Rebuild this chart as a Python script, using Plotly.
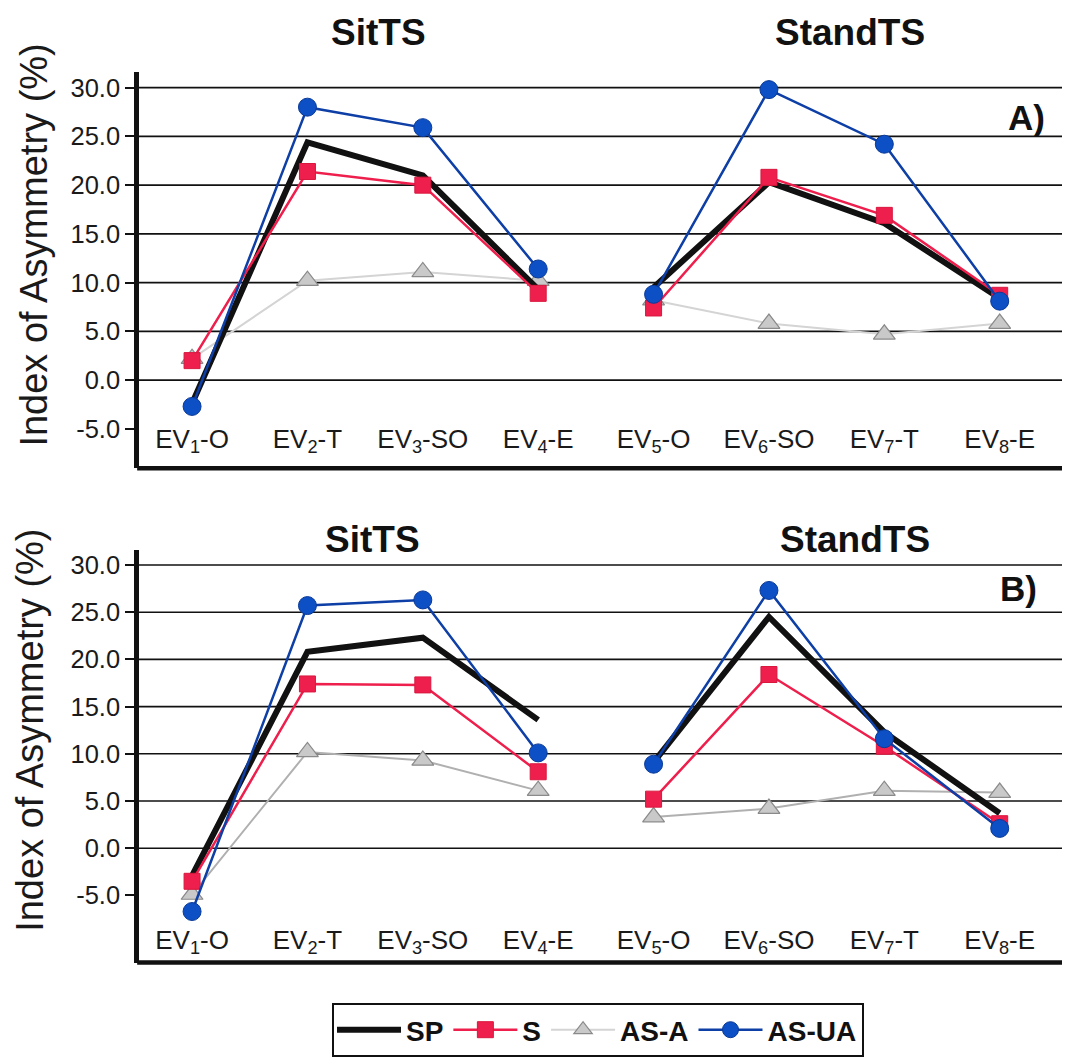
import plotly.graph_objects as go

# ---------------- data ----------------
EVENTS = ["EV<sub>1</sub>-O", "EV<sub>2</sub>-T", "EV<sub>3</sub>-SO", "EV<sub>4</sub>-E",
          "EV<sub>5</sub>-O", "EV<sub>6</sub>-SO", "EV<sub>7</sub>-T", "EV<sub>8</sub>-E"]
TASK_TITLES = ["SitTS", "StandTS"]
PANEL_LABELS = ["A)", "B)"]
SERIES_NAMES = ["SP", "S", "AS-A", "AS-UA"]
Y_TICKS = [-5, 0, 5, 10, 15, 20, 25, 30]
GRID_LEVELS = [0, 5, 10, 15, 20, 25, 30]

# Panel A
A_SP = [-2.4, 24.4, 21.0, 9.3, 9.5, 20.3, 16.1, 8.4]
A_S = [2.0, 21.4, 20.0, 8.9, 7.4, 20.8, 16.9, 8.7]
A_ASA = [2.2, 10.2, 11.1, 10.2, 8.2, 5.8, 4.7, 5.8]
A_ASUA = [-2.7, 28.0, 25.9, 11.4, 8.8, 29.8, 24.2, 8.1]

# Panel B
B_SP = [-2.9, 20.8, 22.3, 13.6, 9.1, 24.5, 12.3, 3.7]
B_S = [-3.5, 17.4, 17.3, 8.1, 5.2, 18.4, 10.8, 2.6]
B_ASA = [-4.9, 10.2, 9.3, 6.1, 3.3, 4.2, 6.1, 5.9]
B_ASUA = [-6.7, 25.7, 26.3, 10.1, 8.9, 27.3, 11.6, 2.1]

PANELS = [
    {"SP": A_SP, "S": A_S, "AS-A": A_ASA, "AS-UA": A_ASUA},
    {"SP": B_SP, "S": B_S, "AS-A": B_ASA, "AS-UA": B_ASUA},
]

# ---------------- styles ----------------
FONT = "Liberation Sans, Arial, Helvetica, sans-serif"
STYLE = {
    "SP": dict(line=dict(color="#111111", width=6), mode="lines", marker=None, rank=1),
    "S": dict(line=dict(color="#ee1f4c", width=2.5), mode="lines+markers",
              marker=dict(symbol="square", size=16, color="#ee1f4c",
                          line=dict(color="#d8183f", width=1)), rank=2),
    "AS-A": dict(line=dict(color="#cfcfcf", width=2), mode="lines+markers",
                 marker=dict(symbol="triangle-up", size=19, color="#c9c9c9",
                             line=dict(color="#8a8a8a", width=1.2)), rank=3),
    "AS-UA": dict(line=dict(color="#0d3fa6", width=2.5), mode="lines+markers",
                  marker=dict(symbol="circle", size=18, color="#0d4fc4",
                              line=dict(color="#0a3a98", width=1)), rank=4),
}
DRAW_ORDER = ["AS-A", "SP", "S", "AS-UA"]
ASA_LINE = ["#d4d4d4", "#b0b0b0"]

W, H = 1067, 1057
ML, MR = 139, 5
PW = W - ML - MR

def px_y(p):
    return 1 - p / H

def px_x(p):
    return (p - ML) / PW

Y_DOMAINS = [[px_y(471), px_y(72)], [px_y(968), px_y(553)]]
Y_RANGES = [[-9.05, 31.65], [-12.1, 31.6]]
X_RANGE = [-0.46, 7.54]
XLAB_POS = [px_y(423), px_y(927)]

fig = go.Figure()

for p, data in enumerate(PANELS):
    xa = "x" if p == 0 else "x2"
    ya = "y" if p == 0 else "y2"
    for name in DRAW_ORDER:
        st = STYLE[name]
        vals = data[name]
        line = dict(st["line"])
        if name == "AS-A":
            line["color"] = ASA_LINE[p]
        for g in range(2):
            idx = list(range(g * 4, g * 4 + 4))
            kw = dict(
                x=idx, y=[vals[i] for i in idx], xaxis=xa, yaxis=ya,
                name=name, legendgroup=name, legendrank=st["rank"],
                showlegend=(p == 0 and g == 0), mode=st["mode"], line=line,
                hoverinfo="x+y+name",
            )
            if st["marker"] is not None:
                kw["marker"] = st["marker"]
            fig.add_trace(go.Scatter(**kw))

layout = dict(
    width=W, height=H,
    margin=dict(l=ML, r=MR, t=0, b=0),
    paper_bgcolor="white", plot_bgcolor="white",
    font=dict(family=FONT, color="#1a1a1a", size=25),
    showlegend=True,
    legend=dict(
        orientation="h", x=px_x(598), xanchor="center", y=px_y(1009), yanchor="top",
        bordercolor="#111111", borderwidth=2, bgcolor="white",
        font=dict(family=FONT, size=28, color="#111111", weight="bold"),
        itemwidth=64, tracegroupgap=0,
    ),
)

for p in range(2):
    xkey = "xaxis" if p == 0 else "xaxis2"
    ykey = "yaxis" if p == 0 else "yaxis2"
    layout[xkey] = dict(
        domain=[0, 1], range=X_RANGE, anchor="free", position=XLAB_POS[p],
        tickmode="array", tickvals=list(range(len(EVENTS))), ticktext=EVENTS,
        showline=False, showgrid=False, zeroline=False, ticks="",
        tickfont=dict(family=FONT, size=26, color="#1a1a1a"), fixedrange=True,
    )
    layout[ykey] = dict(
        domain=Y_DOMAINS[p], range=Y_RANGES[p], anchor="x" if p == 0 else "x2",
        tickmode="array", tickvals=Y_TICKS, ticktext=[f"{v:.1f}" for v in Y_TICKS],
        showline=True, linecolor="#111111", linewidth=4.5,
        showgrid=False, zeroline=False,
        ticks="outside", ticklen=9, tickwidth=1.5, tickcolor="#111111",
        tickfont=dict(family=FONT, size=25.5, color="#1a1a1a"), fixedrange=True,
    )
fig.update_layout(**layout)

shapes = []
for p in range(2):
    xd = "x domain" if p == 0 else "x2 domain"
    yr = "y" if p == 0 else "y2"
    yd = "y domain" if p == 0 else "y2 domain"
    for lv in GRID_LEVELS:
        shapes.append(dict(type="line", xref=xd, yref=yr, x0=0, x1=1, y0=lv, y1=lv,
                           line=dict(color="#111111", width=1.6), layer="below"))
    shapes.append(dict(type="line", xref=xd, yref=yd, x0=-0.002, x1=1, y0=0, y1=0,
                       line=dict(color="#111111", width=4.5), layer="above"))
fig.update_layout(shapes=shapes)

annotations = []
TITLE_POS = [[(378, 33), (850, 33)], [(372, 543), (855, 543)]]
LABEL_POS = [(1026, 118), (1018, 592)]
YTITLE_POS = [(34, 247), (30, 735)]
for p in range(2):
    for k, t in enumerate(TASK_TITLES):
        x, y = TITLE_POS[p][k]
        annotations.append(dict(text=f"<b>{t}</b>", xref="paper", yref="paper",
                                x=px_x(x), y=px_y(y), xanchor="center", yanchor="middle",
                                showarrow=False, font=dict(family=FONT, size=37, color="#111111")))
    x, y = LABEL_POS[p]
    annotations.append(dict(text=f"<b>{PANEL_LABELS[p]}</b>", xref="paper", yref="paper",
                            x=px_x(x), y=px_y(y), xanchor="center", yanchor="middle",
                            showarrow=False, font=dict(family=FONT, size=35, color="#111111")))
    x, y = YTITLE_POS[p]
    annotations.append(dict(text="Index of Asymmetry (%)", xref="paper", yref="paper",
                            x=px_x(x), y=px_y(y), xanchor="center", yanchor="middle",
                            textangle=-90, showarrow=False,
                            font=dict(family=FONT, size=38, color="#1a1a1a")))
fig.update_layout(annotations=annotations)

fig.write_html("out.html")
